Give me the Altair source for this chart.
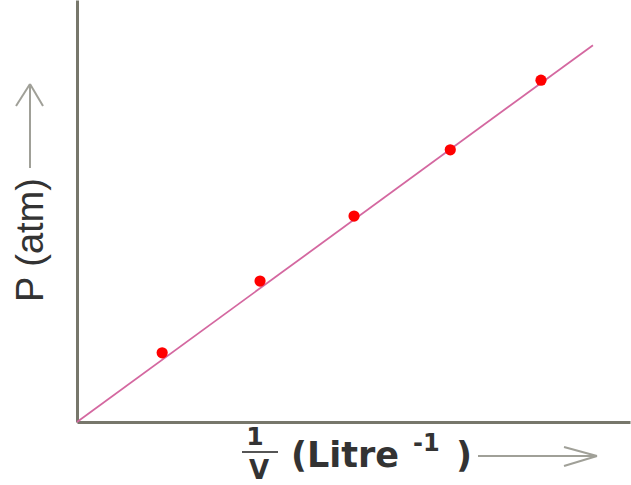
import altair as alt
import pandas as pd

# data (arbitrary units)
inv_v = [1.54, 3.31, 5.01, 6.75, 8.39]
pressure = [1.64, 3.34, 4.88, 6.45, 8.10]
line_x = [0.0, 9.33]
line_y = [0.0, 8.93]

pts = pd.DataFrame({"x": inv_v, "p": pressure})
ln = pd.DataFrame({"x": line_x, "p": line_y})

W, H = 553, 422
xs = alt.Scale(domain=[0, 10], nice=False, zero=True)
ys = alt.Scale(domain=[0, 10], nice=False, zero=True)
ax = alt.Axis(domain=True, domainColor="#77776b", domainWidth=3, ticks=False,
              labels=False, grid=False, title=None)

line = alt.Chart(ln).mark_line(color="#d468a0", strokeWidth=1.8).encode(
    x=alt.X("x:Q", scale=xs, axis=ax),
    y=alt.Y("p:Q", scale=ys, axis=ax),
)
points = alt.Chart(pts).mark_circle(color="#ff0000", opacity=1, size=125).encode(
    x=alt.X("x:Q", scale=xs),
    y=alt.Y("p:Q", scale=ys),
)

one = pd.DataFrame({"t": [""]})

def txt(s, x, y, size, font="DejaVu Sans", align="left", angle=0, color="#333333",
        weight="normal"):
    return alt.Chart(pd.DataFrame({"t": [s]})).mark_text(
        font=font, fontSize=size, align=align, baseline="alphabetic",
        angle=angle, color=color, fontWeight=weight
    ).encode(text="t:N", x=alt.value(x), y=alt.value(y))

def seg(x1, y1, x2, y2, color="#a0a098", w=2):
    return alt.Chart(one).mark_rule(color=color, strokeWidth=w).encode(
        x=alt.value(x1), y=alt.value(y1), x2=alt.value(x2), y2=alt.value(y2))

# y label with arrow
ylab = txt("P (atm)", -34, 240, 38, font="Liberation Sans", align="center", angle=270)
yarr = seg(-47, 84, -47, 168)
yh1 = seg(-47, 84, -61, 106)
yh2 = seg(-47, 84, -34, 106)

# x label: fraction 1/V (Litre^-1) with arrow
f1 = txt("1", 178, 445, 25, align="center", weight="bold")
fbar = seg(165, 452, 201, 452, color="#555555", w=2)
fv = txt("V", 182, 479, 26, align="center", weight="bold")
xl = txt("(Litre", 214, 467, 35, weight="bold")
xsup = txt("-1", 336, 451, 24, weight="bold")
xpar = txt(")", 379, 467, 35, weight="bold")
xarr = seg(401, 456, 520, 456)
xh1 = seg(520, 456, 487, 447)
xh2 = seg(520, 456, 487, 466)

chart = alt.layer(
    line, points, ylab, yarr, yh1, yh2, f1, fbar, fv, xl, xsup, xpar, xarr, xh1, xh2
).properties(
    width=W, height=H,
    autosize=alt.AutoSizeParams(type="none"),
    padding={"left": 77, "top": 0, "right": 1, "bottom": 63},
    background="white",
).configure_view(strokeWidth=0)

chart.save("out.html", embed_options={"renderer": "svg", "actions": False})
